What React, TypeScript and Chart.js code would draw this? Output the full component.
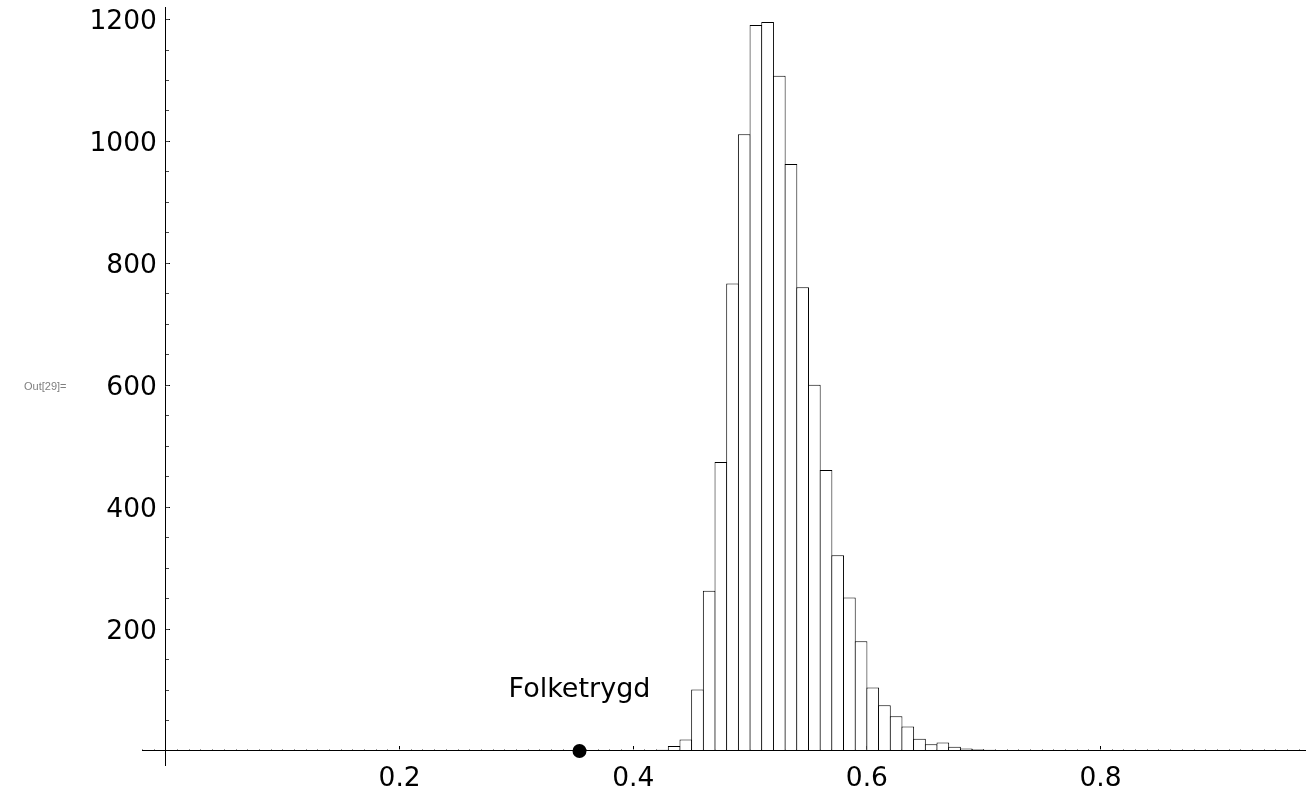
import React, { useEffect, useRef } from 'react';
import { Chart, registerables } from 'chart.js';

Chart.register(...registerables);

// ---- data ----
const binWidth = 0.01;
const binStarts = [
  0.41, 0.42, 0.43, 0.44, 0.45, 0.46, 0.47, 0.48, 0.49, 0.5, 0.51, 0.52, 0.53, 0.54,
  0.55, 0.56, 0.57, 0.58, 0.59, 0.6, 0.61, 0.62, 0.63, 0.64, 0.65, 0.66, 0.67, 0.68,
  0.69, 0.7, 0.71, 0.72, 0.73, 0.74, 0.75,
];
const counts = [
  0, 2, 8, 19, 101, 263, 474, 767, 1012, 1191, 1196, 1108, 963, 761,
  601, 461, 321, 252, 180, 104, 75, 57, 40, 20, 11, 14, 7, 4,
  3, 2, 1, 0, 0, 1, 1,
];
const markerX = [0.354];
const markerY = [0];
const markerLabel = 'Folketrygd';
const markerLabelY = 100;

const xRange = [-0.0205, 0.975];
const yRange = [-23, 1220.6];
const xMajorStep = 0.2;
const xMinorStep = 0.01;
const yMajorStep = 200;
const yMinorStep = 50;
const yLabelAnchorX = -0.0077;

const FONT = 'DejaVu Sans';

const fmt = (v: number) => (Math.abs(v) < 1e-9 ? '' : String(v));

const labelPlugin = {
  id: 'markerLabel',
  afterDatasetsDraw(chart: any) {
    const { ctx, scales } = chart;
    ctx.save();
    ctx.font = `27px "${FONT}"`;
    ctx.fillStyle = '#000';
    ctx.textAlign = 'center';
    ctx.textBaseline = 'middle';
    ctx.fillText(
      markerLabel,
      scales.x.getPixelForValue(markerX[0]),
      scales.y.getPixelForValue(markerLabelY)
    );
    ctx.restore();
  },
};

export default function App() {
  const canvasRef = useRef<HTMLCanvasElement | null>(null);

  useEffect(() => {
    if (!canvasRef.current) return;
    const tickFont = { family: FONT, size: 26.5 };
    const chart = new Chart(canvasRef.current, {
      type: 'scatter',
      data: {
        datasets: [
          {
            type: 'scatter',
            data: markerX.map((x, i) => ({ x, y: markerY[i] })),
            pointRadius: 7,
            pointBackgroundColor: '#000',
            pointBorderColor: '#000',
            pointBorderWidth: 0,
            clip: false,
            xAxisID: 'x',
            yAxisID: 'y',
          } as any,
          {
            type: 'bar',
            data: binStarts.map((s, i) => ({ x: s + binWidth / 2, y: counts[i] })),
            backgroundColor: '#fff',
            borderColor: '#000',
            borderWidth: 1,
            borderSkipped: 'start',
            barPercentage: 1.0856,
            categoryPercentage: 1,
            xAxisID: 'x',
            yAxisID: 'y',
          } as any,
        ],
      },
      options: {
        animation: false,
        responsive: true,
        maintainAspectRatio: false,
        devicePixelRatio: 1,
        events: [],
        layout: { autoPadding: false, padding: { left: 142, top: 7, right: 1, bottom: 26 } },
        plugins: { legend: { display: false }, tooltip: { enabled: false } },
        scales: {
          x: {
            type: 'linear',
            axis: 'x',
            min: xRange[0],
            max: xRange[1],
            offset: false,
            position: { y: 0 },
            border: { display: true, color: '#000', width: 1, z: 1 },
            grid: {
              drawOnChartArea: false,
              drawTicks: true,
              tickLength: -5,
              tickColor: '#000',
              tickWidth: 1,
              offset: false,
            },
            ticks: {
              stepSize: xMajorStep,
              includeBounds: false,
              autoSkip: false,
              maxRotation: 0,
              minRotation: 0,
              padding: 17,
              color: '#000',
              font: tickFont,
              callback: (v: any) => fmt(Number(v)),
            },
          },
          xMinor: {
            type: 'linear',
            axis: 'x',
            min: xRange[0],
            max: xRange[1],
            offset: false,
            position: { y: 0 },
            border: { display: false },
            grid: {
              drawOnChartArea: false,
              drawTicks: true,
              tickLength: -2,
              tickColor: '#999',
              tickWidth: 1,
              offset: false,
            },
            ticks: { display: false, stepSize: xMinorStep, includeBounds: false, autoSkip: false },
          },
          y: {
            type: 'linear',
            axis: 'y',
            min: yRange[0],
            max: yRange[1],
            position: { x: 0 },
            border: { display: true, color: '#000', width: 1, z: 1 },
            grid: {
              drawOnChartArea: false,
              drawTicks: true,
              tickLength: -5,
              tickColor: '#000',
              tickWidth: 1,
            },
            ticks: { display: false, stepSize: yMajorStep, includeBounds: false, autoSkip: false },
          },
          yMinor: {
            type: 'linear',
            axis: 'y',
            min: yRange[0],
            max: yRange[1],
            position: { x: 0 },
            border: { display: false },
            grid: {
              drawOnChartArea: false,
              drawTicks: true,
              tickLength: -3,
              tickColor: '#444',
              tickWidth: 1,
            },
            ticks: { display: false, stepSize: yMinorStep, includeBounds: false, autoSkip: false },
          },
          yLabels: {
            type: 'linear',
            axis: 'y',
            min: yRange[0],
            max: yRange[1],
            position: { x: yLabelAnchorX },
            border: { display: false },
            grid: { display: false, drawTicks: false, drawOnChartArea: false },
            ticks: {
              stepSize: yMajorStep,
              includeBounds: false,
              autoSkip: false,
              padding: -12,
              labelOffset: 3,
              color: '#000',
              font: tickFont,
              callback: (v: any) => fmt(Number(v)),
            },
          },
        } as any,
      },
      plugins: [labelPlugin],
    } as any);
    return () => chart.destroy();
  }, []);

  return (
    <div style={{ position: 'absolute', left: 0, top: 0, width: 1306, height: 791, background: '#fff' }}>
      <canvas ref={canvasRef} />
      <span
        style={{
          position: 'absolute',
          left: 24,
          top: 380,
          fontFamily: '"Liberation Sans", Arial, sans-serif',
          fontSize: 11,
          color: '#7f7f7f',
          whiteSpace: 'nowrap',
        }}
      >
        Out[29]=
      </span>
    </div>
  );
}
